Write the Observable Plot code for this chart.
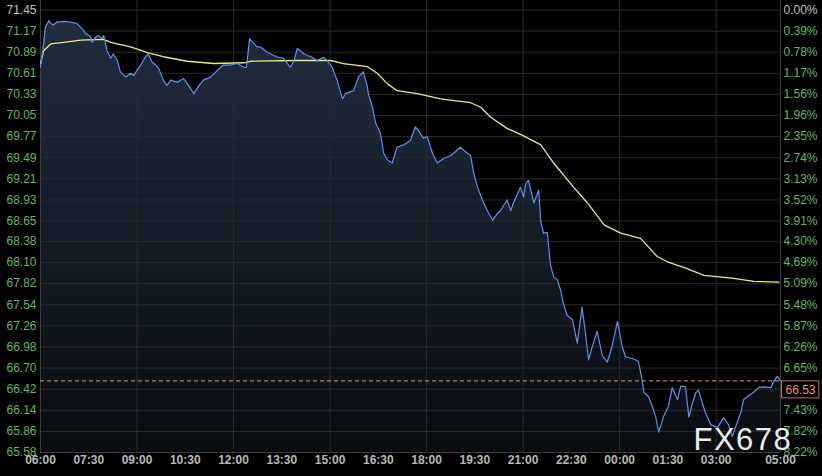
<!DOCTYPE html>
<html><head><meta charset="utf-8">
<script src="https://cdn.jsdelivr.net/npm/d3@7"></script>
<script src="https://cdn.jsdelivr.net/npm/@observablehq/plot@0.6"></script>
<style>
html,body{margin:0;padding:0;background:#000;}
#wrap{position:relative;width:822px;height:476px;overflow:hidden;background:#000;}
</style></head><body>
<div id="wrap"></div>
<script>
// minutes after 06:00
const priceMinutes = [
  0,6,9,16,19,24,31,43,56,68,
  78,84,93,96,103,108,115,118,124,131,
  136,143,149,159,168,174,180,187,196,201,
  208,215,220,229,236,243,255,267,276,286,
  295,304,317,330,341,354,367,379,384,390,
  397,404,410,423,429,440,453,466,473,479,
  491,504,516,528,535,544,553,563,569,584,
  593,602,609,612,619,625,634,640,647,656,
  665,677,690,699,705,714,721,731,740,752,
  765,777,783,796,802,808,815,824,833,843,
  852,858,870,877,882,895,901,905,910,920,
  929,933,938,945,951,957,964,970,975,982,
  992,1001,1010,1017,1022,1031,1038,1048,1057,1066,
  1076,1085,1091,1106,1115,1122,1125,1134,1141,1147,
  1153,1162,1171,1178,1188,1194,1203,1209,1216,1222,
  1227,1234,1240,1250,1262,1274,1283,1290,1296,1306,
  1311,1318,1330,1339,1349,1362,1367,1374,1380
];
const priceValues = [
  70.69,71.01,71.22,71.31,71.27,71.25,71.29,71.30,71.29,71.27,
  71.20,71.14,71.10,71.02,71.09,71.11,71.07,71.11,70.91,70.81,
  70.87,70.78,70.63,70.56,70.61,70.58,70.65,70.72,70.83,70.87,
  70.76,70.72,70.68,70.52,70.45,70.52,70.49,70.54,70.45,70.34,
  70.44,70.52,70.56,70.65,70.72,70.72,70.74,70.69,70.69,71.07,
  71.01,70.96,70.96,70.89,70.87,70.83,70.81,70.69,70.78,70.94,
  70.87,70.83,70.78,70.82,70.78,70.69,70.52,70.27,70.34,70.38,
  70.56,70.63,70.45,70.32,70.16,69.95,69.81,69.55,69.46,69.42,
  69.63,69.66,69.72,69.90,69.85,69.75,69.77,69.55,69.42,69.48,
  69.52,69.59,69.63,69.55,69.52,69.28,69.10,68.93,68.79,68.66,
  68.75,68.79,68.93,68.79,68.89,69.10,68.97,69.15,69.19,68.89,
  69.06,68.64,68.49,68.50,68.07,67.91,67.87,67.73,67.56,67.40,
  67.34,67.03,67.51,67.12,66.81,67.03,67.19,66.86,66.78,66.99,
  67.32,66.98,66.85,66.82,66.79,66.54,66.38,66.32,66.19,66.06,
  65.85,66.06,66.19,66.44,66.28,66.46,66.45,66.05,66.24,66.37,
  66.41,66.24,66.11,65.95,65.91,66.04,65.95,65.79,65.91,66.11,
  66.28,66.32,66.38,66.44,66.45,66.44,66.52,66.59,66.53
];
const avgMinutes = [0,6,19,43,75,118,131,168,201,229,274,323,379,392,479,541,565,609,628,647,665,703,746,802,821,839,870,898,933,957,994,1020,1051,1082,1119,1150,1169,1206,1237,1293,1330,1377];
const avgValues = [70.74,70.91,71.00,71.02,71.05,71.06,71.02,70.96,70.88,70.83,70.77,70.74,70.75,70.77,70.78,70.78,70.74,70.70,70.61,70.47,70.38,70.34,70.27,70.22,70.16,70.03,69.88,69.79,69.66,69.42,69.10,68.89,68.60,68.49,68.42,68.18,68.11,68.02,67.93,67.89,67.85,67.84];
const lastPrice = 66.53;
const basePrice = 71.45;
const bottomPrice = 65.58;
const watermark = "FX678";

const yTickValues = [71.45,71.17,70.89,70.61,70.33,70.05,69.77,69.49,69.21,68.93,68.65,68.38,68.10,67.82,67.54,67.26,66.98,66.70,66.42,66.14,65.86,65.58];
const yTickLabels = ["71.45","71.17","70.89","70.61","70.33","70.05","69.77","69.49","69.21","68.93","68.65","68.38","68.10","67.82","67.54","67.26","66.98","66.70","66.42","66.14","65.86","65.58"];
const pctTickLabels = ["0.00%","0.39%","0.78%","1.17%","1.56%","1.96%","2.35%","2.74%","3.13%","3.52%","3.91%","4.30%","4.69%","5.09%","5.48%","5.87%","6.26%","6.65%","7.04%","7.43%","7.82%","8.22%"];
const xTickMinutes = [0,90,180,270,360,450,540,630,720,810,900,990,1080,1170,1260,1380];
const xTickLabels = ["06:00","07:30","09:00","10:30","12:00","13:30","15:00","16:30","18:00","19:30","21:00","22:30","00:00","01:30","03:00","05:00"];
const xGridMinutes = [180,360,540,720,900,1080,1260];

const priceData = priceMinutes.map((t, i) => ({t, p: priceValues[i]}));
const avgData = avgMinutes.map((t, i) => ({t, p: avgValues[i]}));
const yTicks = yTickValues.map((v, i) => ({v, label: yTickLabels[i], pct: pctTickLabels[i], i}));

const GREEN = "#62b862", GRAY = "#c2c2c2";
const FONT = "'Liberation Sans', Arial, sans-serif";

const chart = Plot.plot({
  width: 822, height: 476,
  marginLeft: 40, marginRight: 42, marginTop: 0, marginBottom: 24,
  style: {background: "#000", fontFamily: FONT, fontSize: "12px", overflow: "visible"},
  x: {domain: [0, 1380], axis: null},
  y: {domain: [bottomPrice, basePrice], range: [452, 9.5], axis: null},
  marks: [
    Plot.areaY(priceData, {x: "t", y1: bottomPrice, y2: "p", fill: "url(#areaGrad)", curve: "linear"}),
    Plot.gridY(yTickValues, {stroke: "#2b2b2b", strokeOpacity: 1}),
    Plot.gridX(xGridMinutes, {stroke: "#2b2b2b", strokeOpacity: 1}),
    Plot.ruleX([0, 1380], {stroke: "#3c3c3c"}),
    Plot.ruleY([bottomPrice], {stroke: "#3c3c3c"}),
    Plot.lineY(avgData, {x: "t", y: "p", stroke: "#ecea78", strokeWidth: 1.3}),
    Plot.lineY(priceData, {x: "t", y: "p", stroke: "#5e90e6", strokeWidth: 1.2}),
    Plot.ruleY([lastPrice], {stroke: "#e39a6c", strokeDasharray: "4,3", strokeWidth: 1}),
    // left axis labels
    Plot.text(yTicks.filter(d => d.i === 0), {y: "v", text: "label", frameAnchor: "left", textAnchor: "end", dx: -4, fill: GRAY}),
    Plot.text(yTicks.filter(d => d.i > 0), {y: "v", text: "label", frameAnchor: "left", textAnchor: "end", dx: -4, fill: GREEN}),
    // right axis labels (7.04% hidden under the price box)
    Plot.text(yTicks.filter(d => d.i === 0), {y: "v", text: "pct", frameAnchor: "right", textAnchor: "start", dx: 3, fill: GRAY}),
    Plot.text(yTicks.filter(d => d.i > 0 && d.i !== 18), {y: "v", text: "pct", frameAnchor: "right", textAnchor: "start", dx: 3, fill: GREEN}),
    // x labels
    Plot.text(xTickMinutes, {x: d => d, text: (d, i) => xTickLabels[i], frameAnchor: "bottom", dy: 11, fill: "#b8b8b8", fontWeight: "bold"}),
    // last price label
    Plot.text([lastPrice], {y: d => d, text: d => d.toFixed(2), frameAnchor: "right", textAnchor: "start", dx: 5, dy: 9, fill: "#ee9272"}),
    // watermark
    Plot.text([watermark], {text: d => d, frameAnchor: "bottom-right", textAnchor: "start", lineAnchor: "bottom", dx: -87, dy: -3, fontSize: 31, fill: "#ececec"})
  ]
});

const wrap = document.getElementById("wrap");
wrap.appendChild(chart);

const svg = d3.select(chart);
const defs = svg.insert("defs", ":first-child");
const grad = defs.append("linearGradient").attr("id", "areaGrad").attr("x1", 0).attr("y1", 0).attr("x2", 0).attr("y2", 1);
grad.append("stop").attr("offset", "0%").attr("stop-color", "#1f2d42");
grad.append("stop").attr("offset", "100%").attr("stop-color", "#0a0c10");

// box around the last price label (drawn in the svg's own coordinates, behind the label group)
const label = svg.selectAll("text").filter(function() { return this.textContent === lastPrice.toFixed(2); }).node();
if (label) {
  const bb = label.getBBox();
  const xRight = chart.scale("x").apply(1380);
  const yTop = chart.scale("y").apply(lastPrice);
  const rect = document.createElementNS("http://www.w3.org/2000/svg", "rect");
  d3.select(rect)
    .attr("x", xRight + 1.5).attr("y", yTop + 0.5)
    .attr("width", bb.width + 7).attr("height", 17)
    .attr("fill", "#000").attr("stroke", "#c8705c").attr("stroke-width", 1);
  chart.insertBefore(rect, label.parentNode);
}
// watermark letter spacing
svg.selectAll("text").filter(function() { return this.textContent === watermark; }).style("letter-spacing", "1.5px");
</script>
</body></html>
